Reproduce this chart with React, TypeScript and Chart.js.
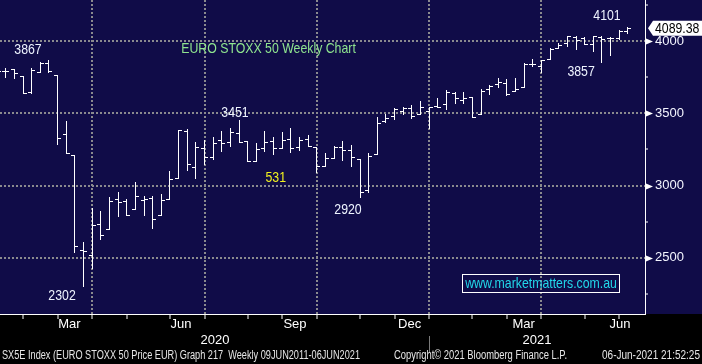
import React, { useEffect, useRef } from 'react';
import { Chart, registerables } from 'chart.js';
Chart.register(...registerables);

// ---- data (weekly OHLC, SX5E) ----
const weeks = [
  '2020-01-10','2020-01-17','2020-01-24','2020-01-31','2020-02-07','2020-02-14','2020-02-21','2020-02-28',
  '2020-03-06','2020-03-13','2020-03-20','2020-03-27','2020-04-03','2020-04-09','2020-04-17','2020-04-24',
  '2020-04-30','2020-05-08','2020-05-15','2020-05-22','2020-05-29','2020-06-05','2020-06-12','2020-06-19',
  '2020-06-26','2020-07-03','2020-07-10','2020-07-17','2020-07-24','2020-07-31','2020-08-07','2020-08-14',
  '2020-08-21','2020-08-28','2020-09-04','2020-09-11','2020-09-18','2020-09-25','2020-10-02','2020-10-09',
  '2020-10-16','2020-10-23','2020-10-30','2020-11-06','2020-11-13','2020-11-20','2020-11-27','2020-12-04',
  '2020-12-11','2020-12-18','2020-12-24','2020-12-31','2021-01-08','2021-01-15','2021-01-22','2021-01-29',
  '2021-02-05','2021-02-12','2021-02-19','2021-02-26','2021-03-05','2021-03-12','2021-03-19','2021-03-26',
  '2021-04-01','2021-04-09','2021-04-16','2021-04-23','2021-04-30','2021-05-07','2021-05-14','2021-05-21',
  '2021-05-28','2021-06-04',
];
const opens = [
  3775, 3792, 3804, 3758, 3645, 3788, 3846, 3765, 3355, 3212, 2552, 2520, 2732, 2700, 2905, 2893,
  2836, 2900, 2912, 2795, 2909, 3055, 3378, 3129, 3258, 3196, 3315, 3304, 3362, 3310, 3172, 3258,
  3308, 3262, 3320, 3265, 3322, 3269, 3138, 3193, 3269, 3246, 3182, 2970, 3216, 3447, 3481, 3516,
  3534, 3493, 3516, 3553, 3562, 3638, 3592, 3615, 3493, 3666, 3703, 3707, 3654, 3680, 3839, 3827,
  3876, 3949, 3984, 4030, 4019, 3977, 4030, 4019, 4019, 4069,
];
const highs = [
  3810, 3811, 3806, 3760, 3811, 3853, 3867, 3765, 3447, 3212, 2608, 2843, 2824, 2919, 2954, 2907,
  3025, 2928, 2928, 2942, 3100, 3384, 3391, 3299, 3315, 3336, 3378, 3396, 3451, 3310, 3293, 3378,
  3338, 3371, 3398, 3336, 3350, 3269, 3223, 3272, 3308, 3281, 3182, 3223, 3474, 3493, 3534, 3541,
  3557, 3585, 3541, 3608, 3661, 3645, 3645, 3615, 3668, 3696, 3742, 3737, 3742, 3846, 3873, 3869,
  3949, 3984, 4037, 4037, 4030, 4035, 4035, 4030, 4076, 4101,
];
const lows = [
  3765, 3749, 3742, 3638, 3643, 3788, 3783, 3286, 3228, 2539, 2302, 2428, 2628, 2700, 2792, 2797,
  2836, 2797, 2709, 2795, 2909, 3055, 3110, 3055, 3149, 3182, 3241, 3276, 3299, 3170, 3172, 3239,
  3221, 3262, 3234, 3246, 3276, 3096, 3138, 3193, 3177, 3138, 2920, 2954, 3216, 3442, 3461, 3495,
  3465, 3493, 3400, 3546, 3528, 3573, 3573, 3477, 3493, 3631, 3680, 3627, 3654, 3680, 3827, 3788,
  3876, 3949, 3965, 3943, 3977, 3931, 3857, 3903, 4014, 4053,
];
const closes = [
  3792, 3792, 3777, 3638, 3799, 3846, 3795, 3327, 3228, 2580, 2548, 2727, 2658, 2896, 2889, 2797,
  2928, 2905, 2767, 2898, 3043, 3384, 3147, 3265, 3200, 3293, 3293, 3369, 3304, 3170, 3251, 3299,
  3258, 3315, 3262, 3315, 3276, 3133, 3193, 3269, 3246, 3196, 2954, 3205, 3431, 3470, 3528, 3534,
  3483, 3541, 3541, 3546, 3645, 3604, 3604, 3477, 3654, 3691, 3714, 3634, 3666, 3839, 3839, 3869,
  3945, 3972, 4037, 4007, 3977, 4035, 4017, 4023, 4071, 4089.38,
];
const lastPrice = 4089.38;

// axis ticks / labels (x values are week indices into the arrays above)
const monthEndIdx = [3, 7, 11, 15, 20, 24, 29, 33, 37, 42, 46, 50, 55, 59, 63, 68, 72];
const quarterEndIdx = [11, 24, 37, 50, 63];
const monthLabels = ['Mar', 'Jun', 'Sep', 'Dec', 'Mar', 'Jun'];
const monthLabelIdx = [8.37, 21.28, 34.47, 47.74, 60.94, 72.09];
const yearLabels = ['2020', '2021'];
const yearLabelIdx = [25.21, 62.48];
const yearSplitIdx = 50;
const yTicks = [2250, 2500, 2750, 3000, 3250, 3500, 3750, 4000, 4250];

// annotations: text, week index, price
const noteTexts = ['3867', '3451', '531', '2920', '2302', '4101', '3857'];
const noteIdx = [3.57, 27.53, 32.24, 40.61, 7.51, 70.58, 67.58];
const noteVal = [3938, 3506, 3052, 2831, 2236, 4177, 3786];
const titleText = 'EURO STOXX 50 Weekly Chart';
const titleIdx = 31.41;
const titleVal = 3947;
const siteText = 'www.marketmatters.com.au';
const siteIdx = 62.95;
const siteVal = 2323;
const footerLeft = 'SX5E Index (EURO STOXX 50 Price EUR) Graph 217  Weekly 09JUN2011-06JUN2021';
const footerMid = 'Copyright\u00A9 2021 Bloomberg Finance L.P.';
const footerRight = '06-Jun-2021 21:52:25';

// ---- styling ----
const FONT = "'Liberation Sans', Arial, sans-serif";
const NAVY = '#100c48';
const GRID = '#8a8a8e';
const X_MIN = 0.33;
const X_MAX = 74.98;
const Y_MIN = 2111;
const Y_MAX = 4284.5;
const NARROW = 0.82;

// draws a horizontally condensed text (Bloomberg-like narrow face)
function narrowText(ctx: CanvasRenderingContext2D, text: string, x: number, y: number,
  align: 'left' | 'center' | 'right', size: number, sx: number = NARROW, fitWidth?: number) {
  ctx.save();
  ctx.font = `${size}px ${FONT}`;
  const raw = ctx.measureText(text).width;
  const scale = fitWidth ? fitWidth / raw : sx;
  const w = raw * scale;
  const left = align === 'left' ? x : align === 'center' ? x - w / 2 : x - w;
  ctx.translate(left, y);
  ctx.scale(scale, 1);
  ctx.textAlign = 'left';
  ctx.textBaseline = 'middle';
  ctx.fillText(text, 0, 0);
  ctx.restore();
  return w;
}

const bgPlugin = {
  id: 'bg',
  beforeDraw(chart: any) {
    const { ctx, chartArea, width, height } = chart;
    ctx.save();
    ctx.fillStyle = '#000';
    ctx.fillRect(0, 0, width, height);
    ctx.fillStyle = NAVY;
    ctx.fillRect(0, 0, width, chartArea.bottom);
    ctx.restore();
  },
};

const ohlcPlugin = {
  id: 'ohlc',
  afterDatasetsDraw(chart: any) {
    const { ctx, chartArea, scales } = chart;
    const xs = scales.x;
    const ys = scales.y;
    ctx.save();
    ctx.beginPath();
    ctx.rect(chartArea.left, chartArea.top, chartArea.right - chartArea.left, chartArea.bottom - chartArea.top);
    ctx.clip();
    ctx.fillStyle = '#ffffff';
    for (let k = 0; k < closes.length; k++) {
      const c = Math.floor(xs.getPixelForValue(k));
      const yh = Math.round(ys.getPixelForValue(highs[k]));
      const yl = Math.round(ys.getPixelForValue(lows[k]));
      const yo = Math.round(ys.getPixelForValue(opens[k]));
      const yc = Math.round(ys.getPixelForValue(closes[k]));
      ctx.fillRect(c, yh, 1, Math.max(1, yl - yh + 1));
      ctx.fillRect(c - 3, yo, 3, 1);
      ctx.fillRect(c + 1, yc, 3, 1);
    }
    ctx.restore();
  },
};

const overlayPlugin = {
  id: 'overlay',
  afterDraw(chart: any) {
    const { ctx, chartArea, scales, width } = chart;
    const xs = scales.x;
    const ys = scales.y;
    ctx.save();
    // right-axis major markers
    ctx.fillStyle = '#ffffff';
    yTicks.forEach((v) => {
      if (v % 500 !== 0) return;
      const py = Math.round(ys.getPixelForValue(v)) + 0.5;
      const ax = chartArea.right + 1;
      ctx.beginPath();
      ctx.moveTo(ax, py - 3);
      ctx.lineTo(ax + 7, py);
      ctx.lineTo(ax, py + 3);
      ctx.closePath();
      ctx.fill();
    });
    // last price box
    const lp = ys.getPixelForValue(lastPrice);
    const bx = chartArea.right + 3;
    ctx.beginPath();
    ctx.moveTo(bx, lp);
    ctx.lineTo(bx + 5, lp - 7.5);
    ctx.lineTo(width, lp - 7.5);
    ctx.lineTo(width, lp + 7.5);
    ctx.lineTo(bx + 5, lp + 7.5);
    ctx.closePath();
    ctx.fill();
    ctx.fillStyle = '#000';
    narrowText(ctx, lastPrice.toFixed(2), bx + 7, lp + 0.5, 'left', 15);

    // annotations
    noteTexts.forEach((t, i) => {
      ctx.fillStyle = t === '531' ? '#f2f21e' : '#eef4ff';
      narrowText(ctx, t, xs.getPixelForValue(noteIdx[i]), ys.getPixelForValue(noteVal[i]), 'center', 15);
    });
    ctx.fillStyle = '#8fe58f';
    narrowText(ctx, titleText, xs.getPixelForValue(titleIdx), ys.getPixelForValue(titleVal), 'center', 15);

    // site box
    const sx = xs.getPixelForValue(siteIdx);
    const sy = ys.getPixelForValue(siteVal);
    ctx.fillStyle = '#22d8ea';
    const tw = narrowText(ctx, siteText, sx, sy + 0.5, 'center', 15);
    ctx.strokeStyle = '#ffffff';
    ctx.lineWidth = 1;
    ctx.strokeRect(Math.round(sx - tw / 2 - 3) + 0.5, Math.round(sy - 9.5) + 0.5, Math.round(tw + 5), 18);

    // year separator
    const sepX = Math.round(xs.getPixelForValue(yearSplitIdx)) + 0.5;
    ctx.strokeStyle = '#7a7a7a';
    ctx.beginPath();
    ctx.moveTo(sepX, chartArea.bottom + 22);
    ctx.lineTo(sepX, chartArea.bottom + 38);
    ctx.stroke();

    // footer
    ctx.fillStyle = '#e6e6e6';
    const fy = chartArea.bottom + 42;
    narrowText(ctx, footerLeft, 2, fy, 'left', 12, NARROW, 358);
    narrowText(ctx, footerMid, 394, fy, 'left', 12, NARROW, 173);
    narrowText(ctx, footerRight, width - 2, fy, 'right', 12, NARROW, 98);
    ctx.restore();
  },
};

const zeroPad = (s: any) => {
  s.paddingLeft = 0;
  s.paddingRight = 0;
  s.paddingTop = 0;
  s.paddingBottom = 0;
};

export default function App() {
  const ref = useRef<HTMLCanvasElement>(null);
  useEffect(() => {
    const canvas = ref.current;
    if (!canvas) return;
    const labelAxis = (positions: number[], labels: string[], weight: number) => ({
      type: 'linear',
      position: 'bottom',
      min: X_MIN,
      max: X_MAX,
      weight,
      afterBuildTicks: (s: any) => {
        s.ticks = positions.map((v) => ({ value: v }));
      },
      afterFit: (s: any) => {
        s.height = 16;
        zeroPad(s);
      },
      grid: { display: false, drawTicks: false },
      border: { display: false },
      ticks: {
        autoSkip: false,
        maxRotation: 0,
        minRotation: 0,
        padding: 2,
        color: '#ffffff',
        font: { family: FONT, size: 13, lineHeight: 1 },
        callback: (_v: any, i: number) => labels[i],
      },
    });
    const chart = new Chart(canvas, {
      type: 'line',
      data: {
        labels: weeks,
        datasets: [
          {
            label: 'SX5E',
            data: closes.map((c, k) => ({ x: k, y: c })),
            showLine: false,
            pointRadius: 0,
            borderColor: '#ffffff',
          },
        ],
      },
      options: {
        animation: false,
        responsive: false,
        maintainAspectRatio: false,
        events: [],
        layout: { padding: { left: 0, right: 0, top: 0, bottom: 16 } },
        plugins: { legend: { display: false }, tooltip: { enabled: false }, title: { display: false } },
        scales: {
          x: {
            type: 'linear',
            position: 'bottom',
            min: X_MIN,
            max: X_MAX,
            weight: 0,
            afterBuildTicks: (s: any) => {
              s.ticks = monthEndIdx.map((v) => ({ value: v }));
            },
            afterFit: (s: any) => {
              s.height = 2;
              zeroPad(s);
            },
            ticks: { display: false },
            grid: {
              display: true,
              drawOnChartArea: true,
              drawTicks: true,
              tickLength: 5,
              tickWidth: 1,
              tickColor: '#ffffff',
              lineWidth: 2,
              color: (c: any) => (c.tick && quarterEndIdx.includes(c.tick.value) ? GRID : 'rgba(0,0,0,0)'),
            },
            border: { display: true, color: '#ffffff', width: 1, dash: [2, 2] },
          },
          xm: labelAxis(monthLabelIdx, monthLabels, 1),
          xy: labelAxis(yearLabelIdx, yearLabels, 2),
          y: {
            type: 'linear',
            position: 'right',
            min: Y_MIN,
            max: Y_MAX,
            afterBuildTicks: (s: any) => {
              s.ticks = yTicks.map((v) => ({ value: v }));
            },
            afterFit: (s: any) => {
              s.width = 57;
              zeroPad(s);
            },
            ticks: {
              autoSkip: false,
              padding: 7,
              color: '#f4f6ff',
              font: { family: FONT, size: 13 },
              callback: (v: any) => (Number(v) % 500 === 0 ? String(v) : ''),
            },
            grid: {
              display: true,
              drawOnChartArea: true,
              drawTicks: true,
              tickLength: 3,
              tickWidth: 1,
              lineWidth: 2,
              tickColor: (c: any) => (c.tick && c.tick.value % 500 === 0 ? 'rgba(0,0,0,0)' : '#ffffff'),
              color: (c: any) => (c.tick && c.tick.value % 500 === 0 ? GRID : 'rgba(0,0,0,0)'),
            },
            border: { display: true, color: '#ffffff', width: 1, dash: [2, 2] },
          },
        },
      } as any,
      plugins: [bgPlugin, ohlcPlugin, overlayPlugin],
    } as any);
    return () => chart.destroy();
  }, []);
  return (
    <div style={{ position: 'absolute', left: 0, top: 0, width: 702, height: 364 }}>
      <canvas ref={ref} width={702} height={364} style={{ display: 'block', width: 702, height: 364 }} />
    </div>
  );
}
